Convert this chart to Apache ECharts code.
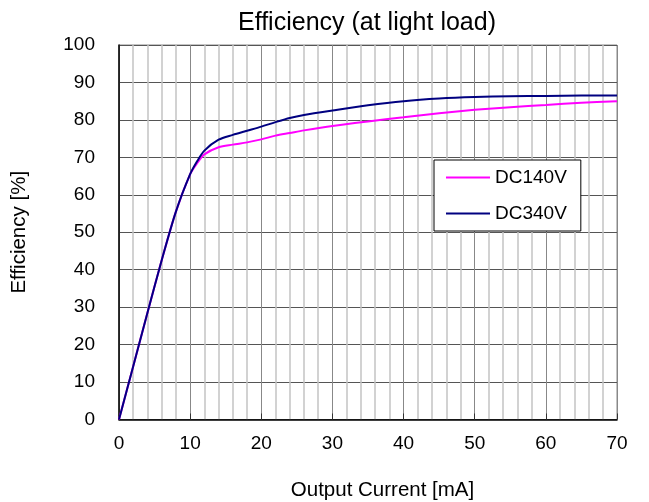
<!DOCTYPE html>
<html>
<head>
<meta charset="utf-8">
<script src="https://cdn.jsdelivr.net/npm/echarts@6/dist/echarts.min.js"></script>
<style>html,body{margin:0;padding:0;background:#fff;}#c{width:649px;height:502px;}</style>
</head>
<body>
<div id="c"></div>
<script>
var current = [0, 2, 4, 6, 8, 10, 11, 12, 14, 16, 18, 20, 22, 24, 26, 30, 35, 40, 45, 50, 55, 60, 65, 70];
var dc140 = [0, 14.2, 28.5, 42.5, 55.5, 65.5, 68.5, 70.8, 72.7, 73.4, 74, 74.8, 75.8, 76.5, 77.2, 78.4, 79.6, 80.7, 81.8, 82.7, 83.4, 84, 84.6, 85];
var dc340 = [0, 14.2, 28.5, 42.5, 55.5, 65.5, 69, 71.8, 74.7, 76, 77.1, 78.2, 79.4, 80.5, 81.3, 82.5, 83.9, 85, 85.7, 86.1, 86.3, 86.4, 86.5, 86.5];
var seriesNames = ['DC140V', 'DC340V'];
var titleText = 'Efficiency (at light load)';
var xName = 'Output Current [mA]';
var yName = 'Efficiency [%]';

function pairs(xs, ys) { return xs.map(function (x, i) { return [x, ys[i]]; }); }

var font = 'Liberation Sans, Arial, sans-serif';
var chart = echarts.init(document.getElementById('c'), null, {renderer: 'canvas'});
chart.setOption({
  animation: false,
  backgroundColor: '#fff',
  title: {
    text: titleText, left: 362, top: 6, textAlign: 'center',
    textStyle: {fontFamily: font, fontSize: 25, fontWeight: 'normal', color: '#000'}
  },
  legend: {
    orient: 'vertical', left: 434, top: 160,
    padding: [8, 14, 8, 11], itemGap: 17, itemWidth: 44, itemHeight: 20,
    borderColor: '#000', borderWidth: 1, backgroundColor: '#fff',
    itemStyle: {color: 'rgba(0,0,0,0)', borderWidth: 0},
    textStyle: {fontFamily: font, fontSize: 19, color: '#000'},
    data: seriesNames
  },
  grid: {left: 119, right: 32, top: 45, bottom: 82.5, show: true, borderColor: '#888', borderWidth: 1,
         containLabel: false, outerBoundsMode: 'none'},
  xAxis: {
    type: 'value', min: 0, max: 70, interval: 10,
    name: xName, nameLocation: 'middle', nameGap: 60,
    nameTextStyle: {fontFamily: font, fontSize: 20.5, color: '#000', padding: [0, 0, 0, 29]},
    axisLine: {lineStyle: {color: '#000', width: 1.5}},
    axisTick: {inside: true, length: 6, lineStyle: {color: '#333'}},
    axisLabel: {fontFamily: font, fontSize: 19, color: '#000', margin: 15},
    splitLine: {show: true, lineStyle: {color: '#888', width: 1}},
    minorTick: {show: false, splitNumber: 5},
    minorSplitLine: {show: true, lineStyle: {color: '#c4c4c4', width: 1.5}}
  },
  yAxis: {
    type: 'value', min: 0, max: 100, interval: 10,
    name: yName, nameLocation: 'middle', nameGap: 89,
    nameTextStyle: {fontFamily: font, fontSize: 20.5, color: '#000'},
    axisLine: {show: true, lineStyle: {color: '#000', width: 1.5}},
    axisTick: {show: false},
    axisLabel: {fontFamily: font, fontSize: 19, color: '#000', margin: 24},
    splitLine: {show: true, lineStyle: {color: '#555', width: 1}}
  },
  series: [
    {name: seriesNames[0], type: 'line', smooth: 0.3, symbol: 'none', data: pairs(current, dc140),
     lineStyle: {color: '#ff00ff', width: 2}, itemStyle: {color: '#ff00ff'}, z: 3},
    {name: seriesNames[1], type: 'line', smooth: 0.3, symbol: 'none', data: pairs(current, dc340),
     lineStyle: {color: '#000080', width: 2}, itemStyle: {color: '#000080'}, z: 4}
  ]
});
</script>
</body>
</html>
